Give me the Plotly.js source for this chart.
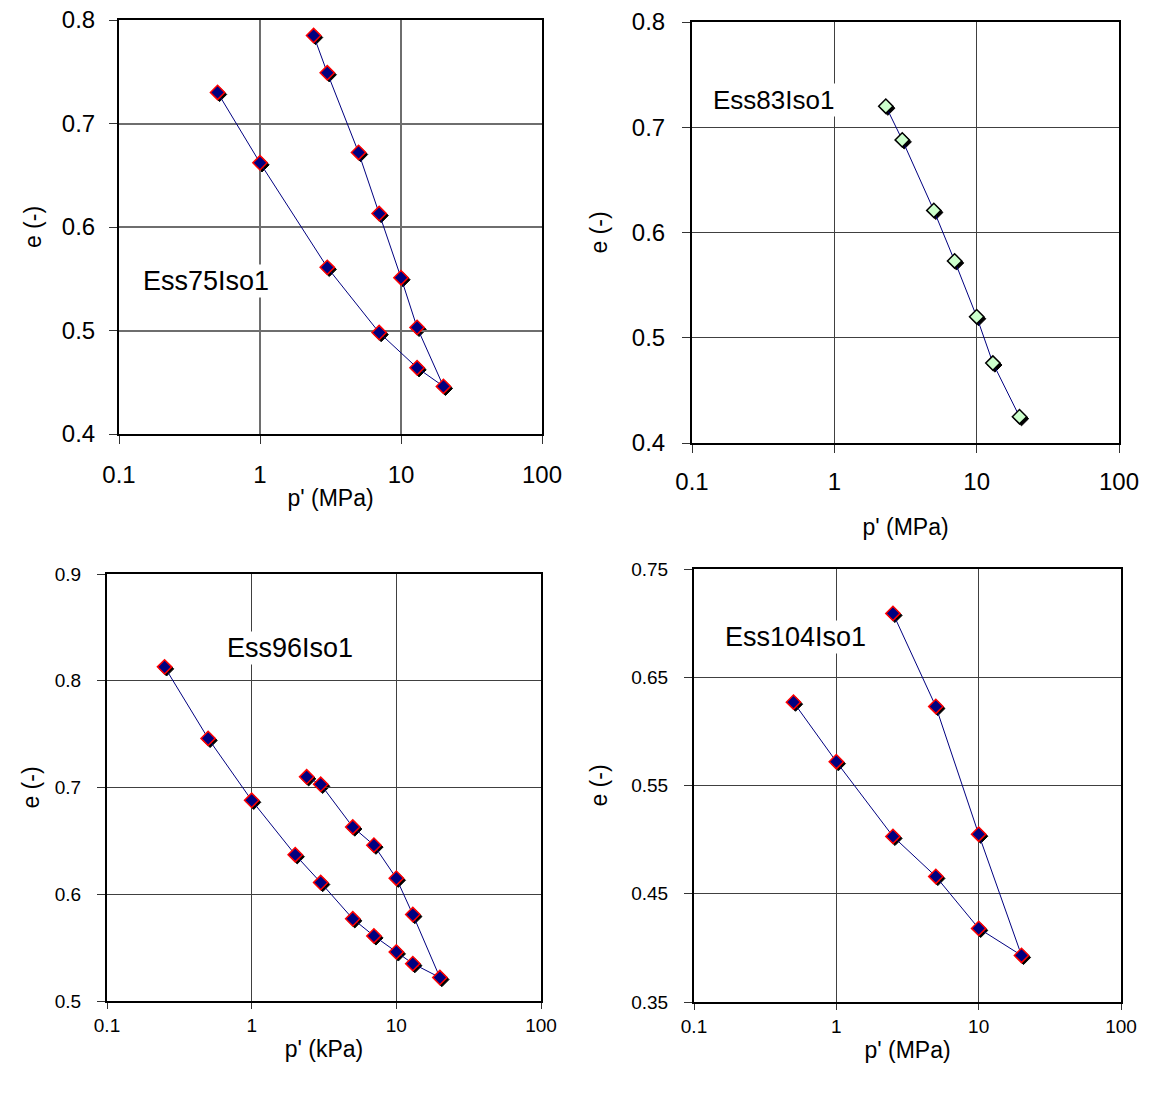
<!DOCTYPE html>
<html>
<head>
<meta charset="utf-8">
<script src="https://cdn.plot.ly/plotly-3.0.1.min.js"></script>
<style>html,body{margin:0;padding:0;background:#fff;}#chart{width:1152px;height:1095px;}</style>
</head>
<body>
<div id="chart"></div>
<script>
// ---- data ----
const pEss75 = [0.5, 1, 3, 7, 13, 20, 13, 10, 7, 5, 3, 2.4];
const eEss75 = [0.730, 0.662, 0.561, 0.498, 0.464, 0.446, 0.503, 0.551, 0.613, 0.672, 0.749, 0.785];
const pEss83 = [2.3, 3, 5, 7, 10, 13, 20];
const eEss83 = [0.720, 0.688, 0.621, 0.573, 0.520, 0.476, 0.425];
const pEss96 = [0.25, 0.5, 1, 2, 3, 5, 7, 10, 13, 20, 13, 10, 7, 5, 3, 2.4];
const eEss96 = [0.813, 0.746, 0.688, 0.637, 0.611, 0.577, 0.561, 0.546, 0.535, 0.522, 0.581, 0.615, 0.646, 0.663, 0.703, 0.710];
const pEss104 = [0.5, 1, 2.5, 5, 10, 20, 10, 5, 2.5];
const eEss104 = [0.627, 0.572, 0.503, 0.466, 0.418, 0.393, 0.505, 0.623, 0.709];
const xTicks = [0.1, 1, 10, 100];
const xTickText = ['0.1', '1', '10', '100'];
const labels = ['Ess75Iso1', 'Ess83Iso1', 'Ess96Iso1', 'Ess104Iso1'];
const xTitles = ["p' (MPa)", "p' (MPa)", "p' (kPa)", "p' (MPa)"];
const yTitle = 'e (-)';

// ---- layout geometry (pixels) ----
const W = 1152, H = 1095;
const panels = [
  {px:[119,542], py:[20,434], yr:[0.4,0.8], fmt:'.1f', fs:24, tl:8, xs:10, xt:3, ys:9, yt:14, gw:2, gc:'#6e6e6e', lf:27, p:pEss75, e:eEss75, green:false, lab:[-0.38,0.548]},
  {px:[692,1119], py:[22,443], yr:[0.4,0.8], fmt:'.1f', fs:24, tl:8, xs:8, xt:25, ys:12, yt:18, gw:1, gc:'#404040', lf:26, p:pEss83, e:eEss83, green:true, lab:[-0.43,0.726]},
  {px:[107,541], py:[574,1001], yr:[0.5,0.9], fmt:'.1f', fs:19, tl:6, xs:0, xt:6, ys:12, yt:9, gw:1, gc:'#404040', lf:27, p:pEss96, e:eEss96, green:false, lab:[0.265,0.831]},
  {px:[694,1121], py:[569,1002], yr:[0.35,0.75], fmt:'.2f', fs:19, tl:6, xs:0, xt:6, ys:12, yt:17, gw:1, gc:'#404040', lf:27, p:pEss104, e:eEss104, green:false, lab:[-0.29,0.687]}
];
const font = 'Liberation Sans, Arial, sans-serif';
const layout = {
  width: W, height: H, margin:{l:0,r:0,t:0,b:0},
  paper_bgcolor:'#fff', plot_bgcolor:'rgba(0,0,0,0)', showlegend:false,
  font:{family:font, color:'#000'}, annotations:[]
};
const data = [];
const sdx = 2/W, sdy = 2/H;
// shadow subplots first (ids 1-4), main subplots after (ids 5-8) so they draw on top
panels.forEach((pn, i) => {
  const dx = [pn.px[0]/W, pn.px[1]/W], dy = [1-pn.py[1]/H, 1-pn.py[0]/H];
  const sid = i+1, mid = i+5;
  const sx = 'xaxis'+(sid===1?'':sid), sy = 'yaxis'+(sid===1?'':sid);
  layout[sx] = {domain:[dx[0]+sdx, dx[1]+sdx], type:'log', range:[-1,2], visible:false, showgrid:false, zeroline:false, anchor:'y'+(sid===1?'':sid)};
  layout[sy] = {domain:[dy[0]-sdy, dy[1]-sdy], range:pn.yr, visible:false, showgrid:false, zeroline:false, anchor:'x'+(sid===1?'':sid)};
  data.push({x:pn.p, y:pn.e, xaxis:'x'+(sid===1?'':sid), yaxis:'y'+(sid===1?'':sid), mode:'markers', type:'scatter',
    marker:{symbol:'diamond', size:11, color:'#000', line:{color:'#000', width:1}}, hoverinfo:'skip'});
  layout['xaxis'+mid] = {domain:dx, type:'log', range:[-1,2], tickvals:xTicks, ticktext:xTickText,
    showgrid:true, gridcolor:pn.gc, gridwidth:pn.gw, zeroline:false,
    showline:true, linecolor:'#000', linewidth:2, mirror:true, ticks:'outside', ticklen:pn.tl, tickcolor:'#333', tickwidth:1,
    ticklabelstandoff:pn.xs,
    tickfont:{size:pn.fs, family:font, color:'#000'},
    title:{text:xTitles[i], font:{size:23, family:font, color:'#000'}, standoff:pn.xt},
    anchor:'y'+mid};
  layout['yaxis'+mid] = {domain:dy, range:pn.yr, dtick:0.1, tick0:pn.yr[0], tickformat:pn.fmt,
    showgrid:true, gridcolor:pn.gc, gridwidth:pn.gw, zeroline:false,
    showline:true, linecolor:'#000', linewidth:2, mirror:true, ticks:'outside', ticklen:8, tickcolor:'#333', tickwidth:1,
    ticklabelstandoff:pn.ys,
    tickfont:{size:pn.fs, family:font, color:'#000'},
    title:{text:yTitle, font:{size:23, family:font, color:'#000'}, standoff:pn.yt},
    anchor:'x'+mid};
  data.push({x:pn.p, y:pn.e, xaxis:'x'+mid, yaxis:'y'+mid, mode:'lines+markers', type:'scatter',
    line:{color:'#000080', width:1},
    marker:{symbol:'diamond', size:11, color: pn.green ? '#ccffcc' : '#000080', line:{color: pn.green ? '#000' : '#ff0000', width:1.5}}});
  layout.annotations.push({x:pn.lab[0], y:pn.lab[1], xref:'x'+mid, yref:'y'+mid, text:labels[i], showarrow:false,
    font:{size:pn.lf, family:font, color:'#000'}, bgcolor:'#fff'});
});
Plotly.newPlot('chart', data, layout, {displayModeBar:false, staticPlot:true});
</script>
</body>
</html>
